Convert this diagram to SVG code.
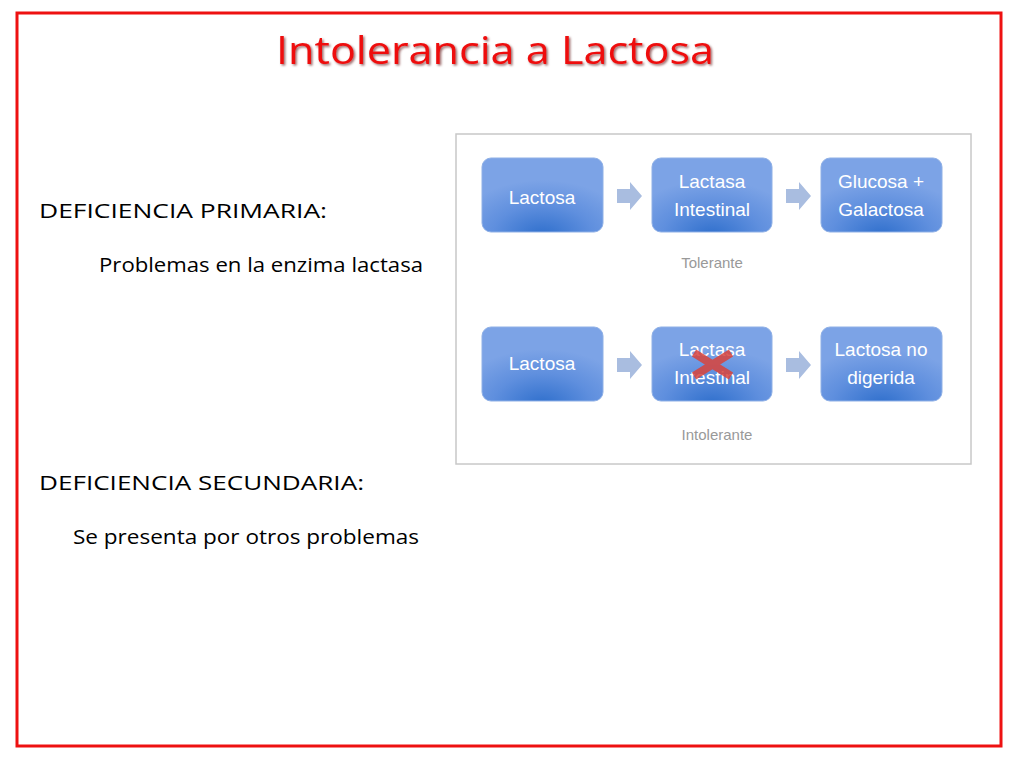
<svg xmlns="http://www.w3.org/2000/svg" width="1024" height="768" viewBox="0 0 1024 768">
<defs>
<style>
.body{font-family:"Comic Sans MS","Open Sans","DejaVu Sans",sans-serif;font-size:20px;fill:#000}
.title{font-family:"Comic Sans MS","Open Sans","DejaVu Sans",sans-serif;font-size:38px;fill:#ee1111}
.box{fill:url(#boxgrad);stroke:#8fb0e6;stroke-width:1}
.btxt{font-family:"Liberation Sans",Arial,sans-serif;font-size:19px;fill:#ffffff;text-anchor:middle}
.cap{font-family:"Liberation Sans",Arial,sans-serif;font-size:15px;fill:#999999;text-anchor:middle}
.arr{fill:#a9bde0}
</style>
<filter id="shadow" x="-5%" y="-20%" width="110%" height="150%">
<feDropShadow dx="1.5" dy="1.5" stdDeviation="0.8" flood-color="#550000" flood-opacity="0.6"/>
</filter>
<radialGradient id="boxgrad" cx="0.5" cy="1.05" r="0.75" fx="0.5" fy="1.05">
<stop offset="0" stop-color="#2f6fcc"/>
<stop offset="0.55" stop-color="#5f8fde"/>
<stop offset="1" stop-color="#7ca3e6"/>
</radialGradient>
</defs>
<rect x="0" y="0" width="1024" height="768" fill="#ffffff"/>
<rect x="17" y="13" width="984" height="733" fill="none" stroke="#ee1111" stroke-width="3"/>
<g id="title">
<text x="495" y="64" class="title" text-anchor="middle" textLength="438" lengthAdjust="spacingAndGlyphs" filter="url(#shadow)">Intolerancia a Lactosa</text>
</g>
<g id="text-left">
<text x="39" y="218" class="body" textLength="288" lengthAdjust="spacingAndGlyphs">DEFICIENCIA PRIMARIA:</text>
<text x="99" y="272" class="body" textLength="324" lengthAdjust="spacingAndGlyphs">Problemas en la enzima lactasa</text>
<text x="39" y="490" class="body" textLength="325" lengthAdjust="spacingAndGlyphs">DEFICIENCIA SECUNDARIA:</text>
<text x="73" y="544" class="body" textLength="346" lengthAdjust="spacingAndGlyphs">Se presenta por otros problemas</text>
</g>
<g id="panel">
<rect x="456" y="134" width="515" height="330" fill="#ffffff" stroke="#c8c8c8" stroke-width="1.5"/>
</g>
<g id="connectors">
<path class="arr" d="M617,189 H630 V182 L642,196 L630,210 V203 H617 Z"/>
<path class="arr" d="M786,189 H799 V182 L811,196 L799,210 V203 H786 Z"/>
<path class="arr" d="M617,358 H630 V351 L642,365 L630,379 V372 H617 Z"/>
<path class="arr" d="M786,358 H799 V351 L811,365 L799,379 V372 H786 Z"/>
</g>
<g id="n1">
<rect class="box" x="482" y="158" width="121" height="74" rx="9"/>
<text class="btxt" x="542" y="204">Lactosa</text>
</g>
<g id="n2">
<rect class="box" x="652" y="158" width="120" height="74" rx="9"/>
<text class="btxt" x="712" y="188">Lactasa</text>
<text class="btxt" x="712" y="216">Intestinal</text>
</g>
<g id="n3">
<rect class="box" x="821" y="158" width="121" height="74" rx="9"/>
<text class="btxt" x="881" y="188">Glucosa +</text>
<text class="btxt" x="881" y="216">Galactosa</text>
</g>
<g id="cap1"><text class="cap" x="712" y="268">Tolerante</text></g>
<g id="n4">
<rect class="box" x="482" y="327" width="121" height="74" rx="9"/>
<text class="btxt" x="542" y="370">Lactosa</text>
</g>
<g id="n5">
<rect class="box" x="652" y="327" width="120" height="74" rx="9"/>
<text class="btxt" x="712" y="356">Lactasa</text>
<text class="btxt" x="712" y="384">Intestinal</text>
<path d="M694,353 L731,376 M731,353 L694,376" stroke="#d9433a" stroke-opacity="0.85" stroke-width="8" stroke-linecap="butt"/>
</g>
<g id="n6">
<rect class="box" x="821" y="327" width="121" height="74" rx="9"/>
<text class="btxt" x="881" y="356">Lactosa no</text>
<text class="btxt" x="881" y="384">digerida</text>
</g>
<g id="cap2"><text class="cap" x="717" y="440">Intolerante</text></g>
</svg>
